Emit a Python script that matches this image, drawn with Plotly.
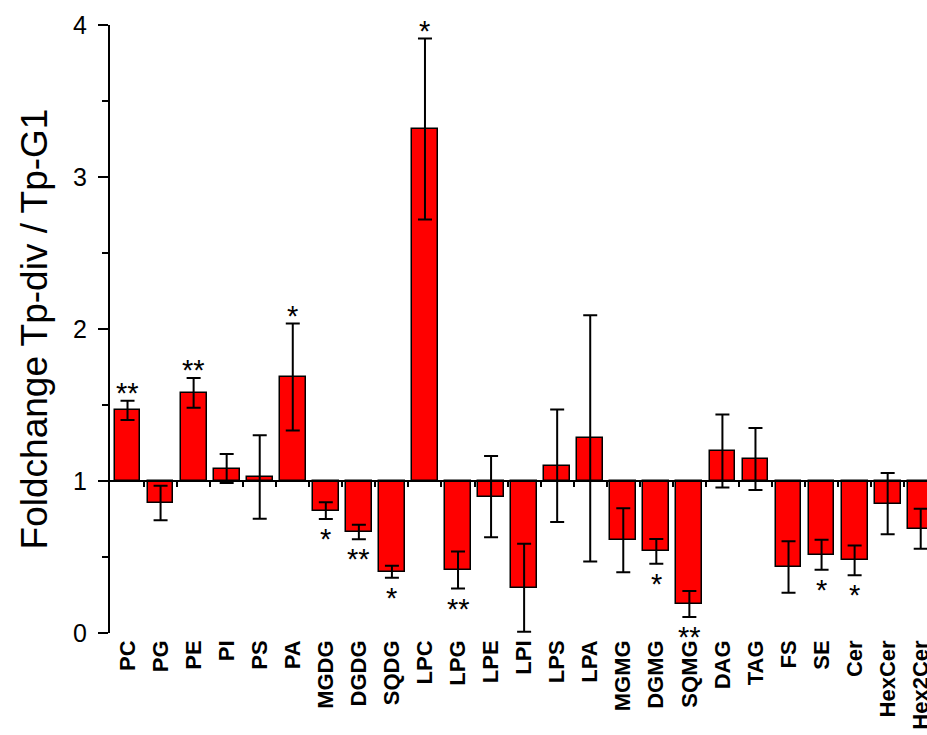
import plotly.graph_objects as go

categories = ["PC", "PG", "PE", "PI", "PS", "PA", "MGDG", "DGDG", "SQDG", "LPC",
              "LPG", "LPE", "LPI", "LPS", "LPA", "MGMG", "DGMG", "SQMG", "DAG", "TAG",
              "FS", "SE", "Cer", "HexCer", "Hex2Cer"]
foldchange = [1.465, 0.855, 1.58, 1.082, 1.026, 1.684, 0.805, 0.664, 0.403, 3.316,
              0.414, 0.897, 0.298, 1.101, 1.281, 0.61, 0.537, 0.191, 1.197, 1.145,
              0.434, 0.515, 0.478, 0.851, 0.686]
error = [0.063, 0.113, 0.098, 0.095, 0.275, 0.352, 0.055, 0.048, 0.04, 0.595,
         0.122, 0.267, 0.289, 0.37, 0.81, 0.21, 0.082, 0.085, 0.24, 0.204,
         0.169, 0.099, 0.098, 0.202, 0.132]
significance = ["**", "", "**", "", "", "*", "*", "**", "*", "*",
                "**", "", "", "", "", "", "*", "**", "", "",
                "", "*", "*", "", ""]
baseline = 1
y_ticks = [0, 1, 2, 3, 4]

FONT = "Liberation Sans, Arial, sans-serif"
idx = list(range(len(categories)))

fig = go.Figure()
fig.add_trace(go.Bar(
    x=idx,
    y=[v - baseline for v in foldchange],
    base=baseline,
    width=0.78,
    marker=dict(color="#FF0000", line=dict(color="black", width=1.5)),
    error_y=dict(type="data", array=error, color="black", thickness=2, width=7),
    showlegend=False,
    hoverinfo="skip",
))
# invisible helper trace on the baseline axis
fig.add_trace(go.Scatter(
    x=idx, y=foldchange, xaxis="x2", mode="markers",
    marker=dict(opacity=0), showlegend=False, hoverinfo="skip",
))

for i, (v, e, s) in enumerate(zip(foldchange, error, significance)):
    if not s:
        continue
    if v >= baseline:
        fig.add_annotation(x=i, y=v + e, text=s, showarrow=False, yanchor="middle",
                           yshift=8, font=dict(family=FONT, size=29, color="black"))
    else:
        fig.add_annotation(x=i, y=v - e, text=s, showarrow=False, yanchor="middle",
                           yshift=-20, font=dict(family=FONT, size=29, color="black"))

x_range = [-0.53, 24.19]

fig.update_layout(
    width=927, height=735,
    margin=dict(l=110, r=0, t=25, b=102),
    paper_bgcolor="white", plot_bgcolor="white",
    bargap=0,
    xaxis=dict(
        range=x_range, automargin=False,
        tickmode="array", tickvals=idx, ticktext=categories,
        tickangle=-90,
        tickfont=dict(family=FONT, size=22, color="black", weight="bold"),
        ticks="", showline=False, showgrid=False, zeroline=False,
        ticklabelstandoff=2, ticklabeloverflow="allow",
    ),
    xaxis2=dict(
        range=x_range, overlaying="x", anchor="free", position=0.25, side="bottom",
        automargin=False,
        tickmode="array", tickvals=[i + 0.5 for i in idx[:-1]],
        showticklabels=False, ticks="outside", ticklen=5, tickwidth=2, tickcolor="black",
        showline=True, linewidth=2, linecolor="black",
        showgrid=False, zeroline=False,
    ),
    yaxis=dict(
        range=[0, 4], automargin=False,
        tickmode="array", tickvals=y_ticks,
        ticks="outside", ticklen=10, tickwidth=2, tickcolor="black",
        minor=dict(dtick=0.5, ticks="outside", ticklen=6, tickwidth=2, tickcolor="black"),
        showline=True, linewidth=2, linecolor="black",
        showgrid=False, zeroline=False,
        tickfont=dict(family=FONT, size=25, color="black"),
        ticklabelstandoff=6,
        title=dict(text="Foldchange Tp-div / Tp-G1",
                   font=dict(family=FONT, size=37, color="black"), standoff=14),
    ),
)

fig.write_html(
    "out.html",
    config={"displayModeBar": False},
    post_script=(
        "document.body.style.margin='0';"
        "document.body.style.overflow='hidden';"
        "document.documentElement.style.overflow='hidden';"
    ),
)
